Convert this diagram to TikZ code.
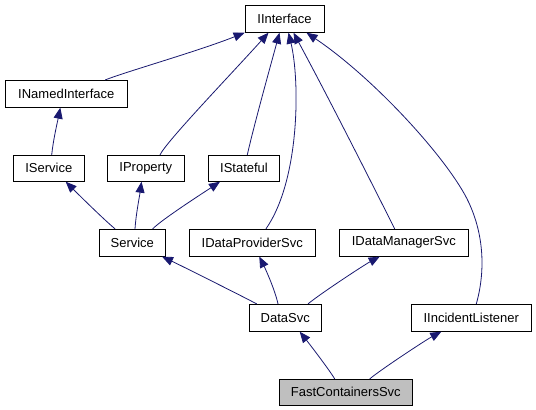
\documentclass[tikz,border=0pt]{standalone}
\usepackage{fontspec}
\setmainfont{Liberation Sans}
\usetikzlibrary{arrows.meta}
\definecolor{edgeblue}{HTML}{191970}
\definecolor{boxgray}{HTML}{BFBFBF}
\tikzset{
  box/.style={draw=black, line width=0.8pt, inner sep=0pt, minimum height=27pt,
    font=\fontsize{13}{15}\selectfont, fill=white},
  edge/.style={draw=edgeblue, line width=0.8pt,
    -{Triangle[length=11pt,width=9pt]}, color=edgeblue}
}
\begin{document}
\begin{tikzpicture}[x=1pt,y=-1pt]
\useasboundingbox (0,0) rectangle (536,410);
\fill[white] (0,0) rectangle (536,410);

\node[box, minimum width=79pt] (ii) at (284.5,18.8) {IInterface};
\node[box, minimum width=122pt] (ini) at (66.3,93.8) {INamedInterface};
\node[box, minimum width=71pt, minimum height=26pt] (isv) at (48.8,168.3) {IService};
\node[box, minimum width=77pt, minimum height=26pt] (ipr) at (145.8,168.3) {IProperty};
\node[box, minimum width=71.5pt, minimum height=26pt] (ist) at (244,168.3) {IStateful};
\node[box, minimum width=66pt] (svc) at (132.3,242.7) {Service};
\node[box, minimum width=126pt] (idp) at (252.3,242.7) {IDataProviderSvc};
\node[box, minimum width=129pt] (idm) at (403.8,242.7) {IDataManagerSvc};
\node[box, minimum width=72pt] (dsv) at (285.3,317.8) {DataSvc};
\node[box, minimum width=120pt] (iil) at (471.3,317.8) {IIncidentListener};
\node[box, minimum width=133pt, minimum height=26pt, fill=boxgray] (fcs) at (345.8,392.3) {FastContainersSvc};

% to IInterface
\draw[edge] ([xshift=39pt]ini.north) .. controls +(20,-8) and +(-45,18) .. (ii.south west);
\draw[edge] ([xshift=14.2pt]ipr.north) .. controls +(6,-13) and +(-38.5,42.7) .. ([xshift=-16pt]ii.south);
\draw[edge] ([xshift=3.3pt]ist.north) .. controls +(6.7,-30) and +(-7.5,27.7) .. ([xshift=-5pt]ii.south);
\draw[edge] ([xshift=13.7pt]idp.north) .. controls +(34,-49) and +(11.5,48) .. ([xshift=4pt]ii.south);
\draw[edge] ([xshift=-9.1pt]idm.north) .. controls +(-24.7,-49) and +(36.5,67.7) .. ([xshift=9pt]ii.south);
\draw[edge] ([xshift=5pt]iil.north) .. controls +(9.7,-34.3) and +(19,35) .. (465,195)
   .. controls +(-25,-45) and +(63.5,42.7) .. ([xshift=22pt]ii.south);

% lower levels
\draw[edge] ([xshift=2.9pt]isv.north) .. controls +(1.5,-15) and +(-3,15) .. ([xshift=-6pt]ini.south);
\draw[edge] ([xshift=-17.3pt]svc.north) .. controls +(-12,-10) and +(10,10) .. ([xshift=16.9pt]isv.south);
\draw[edge] ([xshift=2.7pt]svc.north) .. controls +(1,-15) and +(-2,15) .. ([xshift=-4.3pt]ipr.south);
\draw[edge] ([xshift=20.4pt]svc.north) .. controls +(10,-10) and +(-15,10) .. ([xshift=-24pt]ist.south);
\draw[edge] ([xshift=-28.6pt]dsv.north) .. controls +(-15,-8) and +(15,7) .. ([xshift=29.7pt]svc.south);
\draw[edge] ([xshift=-7.3pt]dsv.north) .. controls +(-3,-14) and +(6,12) .. ([xshift=7pt]idp.south);
\draw[edge] ([xshift=22.7pt]dsv.north) .. controls +(12,-10) and +(-15,8) .. ([xshift=-24.1pt]idm.south);
\draw[edge] ([xshift=-11.1pt]fcs.north) .. controls +(-6,-10) and +(8,10) .. ([xshift=14.4pt]dsv.south);
\draw[edge] ([xshift=23.9pt]fcs.north) .. controls +(12,-10) and +(-15,8) .. ([xshift=-30pt]iil.south);
\end{tikzpicture}
\end{document}
